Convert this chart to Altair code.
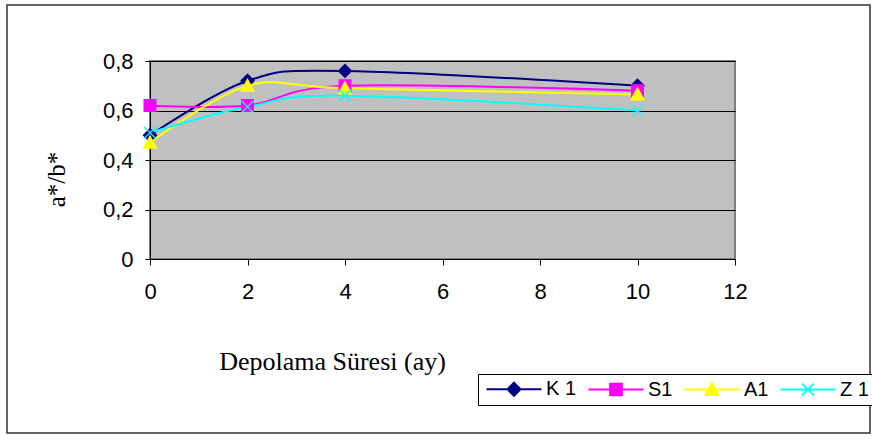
import altair as alt
import pandas as pd

# ---- data ----
months = [0, 2, 4, 10]
series_names = ["K 1", "S1", "A1", "Z 1"]
K1 = [0.50, 0.72, 0.76, 0.70]
S1 = [0.62, 0.62, 0.70, 0.68]
A1 = [0.47, 0.70, 0.69, 0.665]
Z1 = [0.51, 0.615, 0.66, 0.60]
colors = ["#000080", "#FF00FF", "#FFFF00", "#00FFFF"]
x_ticks = [0, 2, 4, 6, 8, 10, 12]
y_ticks = [0, 0.2, 0.4, 0.6, 0.8]

rows = []
for name, vals in zip(series_names, [K1, S1, A1, Z1]):
    for m, v in zip(months, vals):
        rows.append({"ay": m, "val": v, "series": name})
df = pd.DataFrame(rows)

# marker shapes (plot)
marker_paths = [
    "M0,-1L1,0L0,1L-1,0Z",
    "M-0.9,-0.9H0.9V0.9H-0.9Z",
    "M0,-1L1,0.85L-1,0.85Z",
    "M-0.9,-0.9L0.9,0.9M-0.9,0.9L0.9,-0.9",
]
# legend symbols: line with marker in the middle
c = 3.23
legend_paths = [
    f"M-1,0H7.46M{c},-1L{c+1},0L{c},1L{c-1},0Z",
    f"M-1,0H7.46M{c-0.9},-0.9H{c+0.9}V0.9H{c-0.9}Z",
    f"M-1,0H7.46M{c},-1L{c+1},0.85L{c-1},0.85Z",
    f"M-1,0H7.46M{c-0.9},-0.9L{c+0.9},0.9M{c-0.9},0.9L{c+0.9},-0.9",
]

X = alt.X(
    "ay:Q",
    scale=alt.Scale(domain=[0, 12], nice=False, zero=False),
    axis=alt.Axis(
        values=x_ticks, grid=False, title="Depolama Süresi (ay)",
        titleFont="Liberation Serif", titleFontSize=26, titleFontWeight="normal",
        titleColor="black", titleX=182, titleY=102, titleBaseline="middle",
        titleAnchor="start", titleAlign="center",
        labelFont="Liberation Sans", labelFontSize=22, labelColor="black",
        tickSize=6, labelPadding=16, domainColor="black", tickColor="black",
        labelFlush=False,
    ),
)
Y = alt.Y(
    "val:Q",
    scale=alt.Scale(domain=[0, 0.8], nice=False),
    axis=alt.Axis(
        values=y_ticks, grid=True, gridColor="black", gridWidth=1, gridOpacity=1,
        title="a*/b*", titleFont="Liberation Serif", titleFontSize=25,
        titleFontWeight="normal", titleColor="black", titleX=-94, titleY=118,
        titleBaseline="middle", titleAlign="center", titleAngle=270,
        labelFont="Liberation Sans", labelFontSize=22, labelColor="black",
        tickSize=5, labelPadding=12, domainColor="black", tickColor="black",
        labelExpr="datum.value == 0 ? '0' : replace(format(datum.value, '.1f'), '.', ',')",
        labelFlush=False,
    ),
)

cscale = alt.Scale(domain=series_names, range=colors)

border = alt.Chart(pd.DataFrame({"a": [0]})).mark_rect(
    fillOpacity=0, stroke="#333333", strokeWidth=1.5, clip=False
).encode(x=alt.value(-143), x2=alt.value(720), y=alt.value(-56), y2=alt.value(372))

lines = alt.Chart(df).mark_line(interpolate="cardinal", strokeWidth=2).encode(
    x=X, y=Y,
    stroke=alt.Stroke("series:N", scale=cscale, legend=None, sort=series_names),
)

points = alt.Chart(df).mark_point(size=169, strokeWidth=1.3, opacity=1).encode(
    x=X, y=Y,
    fill=alt.Fill("series:N", scale=cscale, legend=None),
    stroke=alt.Stroke("series:N", scale=cscale, legend=None),
    shape=alt.Shape("series:N", scale=alt.Scale(domain=series_names, range=marker_paths), legend=None),
)

leg = alt.Legend(
    title=None, orient="none", legendX=328, legendY=313, direction="horizontal",
    columns=4, columnPadding=7, padding=5, strokeColor="black", fillColor="white",
    labelFont="Liberation Sans", labelFontSize=20, labelColor="black",
    labelOffset=43, symbolSize=169, symbolStrokeWidth=2, symbolOpacity=1,
)
legend_layer = alt.Chart(df).mark_point(size=169, opacity=0).encode(
    x=X, y=Y,
    fill=alt.Fill("series:N", scale=cscale, legend=leg, sort=series_names),
    stroke=alt.Stroke("series:N", scale=cscale, legend=leg, sort=series_names),
    shape=alt.Shape("series:N", scale=alt.Scale(domain=series_names, range=legend_paths),
                    legend=leg, sort=series_names),
)

chart = alt.layer(border, lines, points, legend_layer).resolve_scale(
    fill="independent", stroke="independent", shape="independent"
).properties(
    width=585, height=198,
    autosize=alt.AutoSizeParams(type="none"),
    padding={"left": 150, "top": 61, "right": 137, "bottom": 180},
    background="white",
).configure_view(fill="#C0C0C0", stroke="#808080", strokeWidth=2)

chart.save("out.html", embed_options={"renderer": "svg", "actions": False})
